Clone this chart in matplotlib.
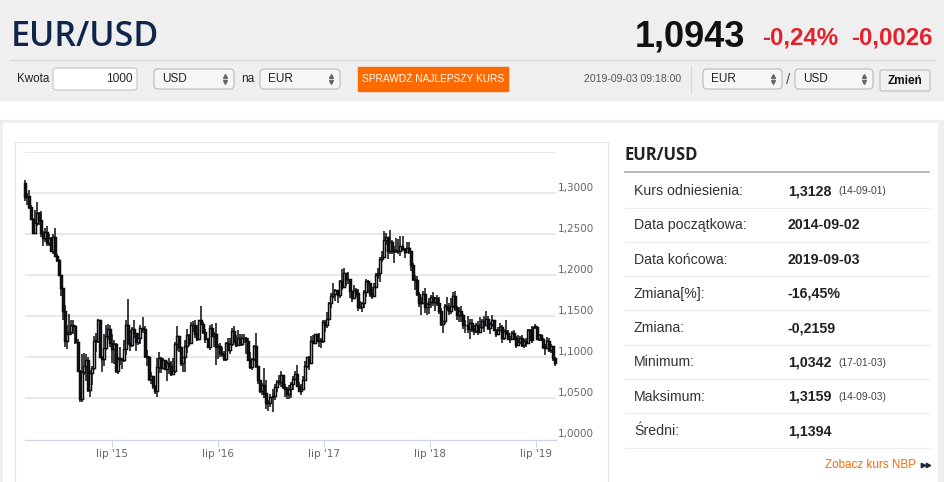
import numpy as np
import pandas as pd
import matplotlib
matplotlib.use('Agg')
import matplotlib.pyplot as plt
import matplotlib.dates as mdates
from matplotlib.patches import Rectangle, FancyBboxPatch
from matplotlib import transforms

# --- dane ---------------------------------------------------------------
pair = 'EUR/USD'
last_rate = '1,0943'
change_pct = '-0,24%'
change_abs = '-0,0026'
timestamp = '2019-09-03 09:18:00'
ref_rate = 1.3128

# tygodniowe swiece EUR/USD (zamkniecie, max, min), od 2014-09-03
closes = [
    1.295, 1.297, 1.283, 1.268, 1.252, 1.263, 1.276, 1.267, 1.252,
    1.245, 1.253, 1.239, 1.245, 1.229, 1.246, 1.223, 1.218, 1.200,
    # 2015
    1.184, 1.157, 1.120, 1.129, 1.131, 1.139, 1.138, 1.119,
    1.084, 1.049, 1.082, 1.089, 1.097, 1.060, 1.081, 1.087, 1.120,
    1.120, 1.145, 1.101, 1.098, 1.111, 1.126, 1.135, 1.117, 1.110,
    1.116, 1.083, 1.098, 1.098, 1.097, 1.110, 1.139, 1.118, 1.115,
    1.134, 1.130, 1.119, 1.123, 1.136, 1.135, 1.102, 1.100,
    1.074, 1.077, 1.065, 1.059, 1.088, 1.099, 1.087, 1.097, 1.086,
    # 2016
    1.093, 1.089, 1.080, 1.083, 1.116, 1.126, 1.113, 1.093, 1.100,
    1.114, 1.127, 1.117, 1.139, 1.140, 1.128, 1.122, 1.145,
    1.141, 1.131, 1.122, 1.112, 1.136, 1.126, 1.128, 1.112, 1.114,
    1.105, 1.104, 1.098, 1.117, 1.109, 1.116, 1.132, 1.119, 1.115,
    1.123, 1.116, 1.123, 1.124, 1.120, 1.097, 1.088, 1.098, 1.114,
    1.089, 1.073, 1.059, 1.066, 1.056, 1.045, 1.045, 1.052,
    # 2017
    1.053, 1.064, 1.070, 1.070, 1.078, 1.064, 1.062, 1.056, 1.062,
    1.067, 1.074, 1.080, 1.065, 1.059, 1.062, 1.073, 1.090,
    1.100, 1.093, 1.120, 1.118, 1.128, 1.120, 1.120, 1.120, 1.143,
    1.140, 1.147, 1.166, 1.175, 1.177, 1.182, 1.176, 1.193, 1.186,
    1.203, 1.195, 1.195, 1.181, 1.172, 1.182, 1.178, 1.161, 1.161,
    1.166, 1.179, 1.193, 1.190, 1.177, 1.175, 1.186, 1.200,
    # 2018
    1.203, 1.220, 1.222, 1.243, 1.246, 1.230, 1.241, 1.230, 1.231,
    1.230, 1.229, 1.235, 1.232, 1.228, 1.233, 1.229, 1.213, 1.196,
    1.194, 1.177, 1.166, 1.166, 1.177, 1.161, 1.165, 1.168,
    1.174, 1.168, 1.172, 1.166, 1.157, 1.141, 1.144, 1.162, 1.160,
    1.156, 1.163, 1.175, 1.160, 1.152, 1.156, 1.151, 1.140, 1.139,
    1.134, 1.142, 1.134, 1.132, 1.139, 1.131, 1.137, 1.144, 1.140,
    # 2019
    1.147, 1.136, 1.141, 1.146, 1.133, 1.129, 1.133, 1.137,
    1.124, 1.132, 1.130, 1.122, 1.122, 1.130, 1.124, 1.115, 1.119,
    1.123, 1.115, 1.120, 1.117, 1.133, 1.121, 1.137, 1.137,
    1.122, 1.127, 1.122, 1.113, 1.111, 1.120, 1.109, 1.114, 1.099,
    1.093,
]
highs = [
    1.316, 1.300, 1.304, 1.285, 1.270, 1.280, 1.289, 1.277, 1.278,
    1.254, 1.258, 1.260, 1.250, 1.246, 1.250, 1.257, 1.226, 1.220,
    # 2015
    1.197, 1.185, 1.164, 1.139, 1.153, 1.146, 1.146, 1.140,
    1.122, 1.085, 1.104, 1.105, 1.104, 1.100, 1.085, 1.090, 1.126,
    1.130, 1.147, 1.146, 1.102, 1.128, 1.139, 1.141, 1.140, 1.128,
    1.121, 1.118, 1.101, 1.113, 1.099, 1.121, 1.146, 1.171, 1.133,
    1.137, 1.146, 1.130, 1.130, 1.139, 1.149, 1.138, 1.109,
    1.102, 1.082, 1.077, 1.066, 1.099, 1.106, 1.101, 1.099, 1.096,
    # 2016
    1.095, 1.099, 1.095, 1.099, 1.119, 1.138, 1.124, 1.113, 1.101,
    1.121, 1.134, 1.129, 1.143, 1.144, 1.146, 1.140, 1.146,
    1.162, 1.143, 1.134, 1.124, 1.139, 1.141, 1.131, 1.142, 1.116,
    1.118, 1.112, 1.108, 1.119, 1.123, 1.123, 1.136, 1.138, 1.127,
    1.133, 1.128, 1.128, 1.128, 1.125, 1.123, 1.106, 1.099, 1.115,
    1.130, 1.090, 1.071, 1.069, 1.087, 1.073, 1.048, 1.055,
    # 2017
    1.061, 1.068, 1.072, 1.078, 1.083, 1.079, 1.068, 1.064, 1.066,
    1.070, 1.077, 1.083, 1.091, 1.070, 1.068, 1.077, 1.095,
    1.100, 1.102, 1.126, 1.127, 1.129, 1.129, 1.130, 1.124, 1.145,
    1.145, 1.155, 1.168, 1.178, 1.191, 1.183, 1.180, 1.194, 1.207,
    1.209, 1.199, 1.204, 1.188, 1.181, 1.188, 1.184, 1.183, 1.169,
    1.167, 1.182, 1.196, 1.194, 1.190, 1.186, 1.191, 1.203,
    # 2018
    1.209, 1.222, 1.230, 1.254, 1.252, 1.247, 1.255, 1.243, 1.236,
    1.245, 1.244, 1.248, 1.248, 1.233, 1.240, 1.241, 1.229, 1.215,
    1.200, 1.199, 1.179, 1.174, 1.181, 1.185, 1.166, 1.172,
    1.176, 1.179, 1.174, 1.176, 1.174, 1.160, 1.144, 1.165, 1.173,
    1.166, 1.172, 1.180, 1.181, 1.162, 1.161, 1.162, 1.153, 1.146,
    1.150, 1.147, 1.147, 1.140, 1.142, 1.144, 1.149, 1.147, 1.150,
    # 2019
    1.157, 1.150, 1.143, 1.151, 1.146, 1.134, 1.137, 1.142,
    1.139, 1.134, 1.145, 1.133, 1.126, 1.132, 1.133, 1.126, 1.127,
    1.126, 1.127, 1.122, 1.123, 1.135, 1.134, 1.138, 1.141,
    1.138, 1.129, 1.129, 1.124, 1.116, 1.125, 1.123, 1.116, 1.111,
    1.100,
]
lows = [
    1.290, 1.286, 1.281, 1.267, 1.250, 1.251, 1.260, 1.261, 1.247,
    1.236, 1.240, 1.236, 1.236, 1.228, 1.226, 1.222, 1.216, 1.199,
    # 2015
    1.175, 1.146, 1.112, 1.110, 1.127, 1.127, 1.129, 1.116,
    1.083, 1.046, 1.046, 1.078, 1.071, 1.058, 1.052, 1.066, 1.085,
    1.107, 1.117, 1.099, 1.082, 1.090, 1.109, 1.121, 1.112, 1.093,
    1.092, 1.081, 1.080, 1.091, 1.086, 1.094, 1.103, 1.115, 1.108,
    1.113, 1.124, 1.108, 1.115, 1.116, 1.130, 1.099, 1.090,
    1.071, 1.067, 1.062, 1.055, 1.052, 1.081, 1.081, 1.089, 1.084,
    # 2016
    1.071, 1.080, 1.077, 1.080, 1.081, 1.108, 1.106, 1.090, 1.082,
    1.082, 1.105, 1.114, 1.116, 1.131, 1.124, 1.120, 1.121,
    1.139, 1.129, 1.118, 1.111, 1.109, 1.125, 1.113, 1.091, 1.098,
    1.100, 1.101, 1.095, 1.095, 1.108, 1.104, 1.114, 1.118, 1.112,
    1.115, 1.114, 1.114, 1.117, 1.104, 1.096, 1.086, 1.085, 1.095,
    1.087, 1.067, 1.057, 1.054, 1.051, 1.037, 1.035, 1.040,
    # 2017
    1.034, 1.048, 1.058, 1.066, 1.064, 1.061, 1.052, 1.049, 1.049,
    1.050, 1.060, 1.073, 1.064, 1.058, 1.054, 1.063, 1.082,
    1.087, 1.084, 1.092, 1.116, 1.116, 1.119, 1.112, 1.111, 1.118,
    1.131, 1.136, 1.146, 1.160, 1.172, 1.169, 1.166, 1.172, 1.182,
    1.189, 1.187, 1.189, 1.172, 1.167, 1.173, 1.173, 1.157, 1.159,
    1.155, 1.160, 1.173, 1.178, 1.173, 1.171, 1.176, 1.186,
    # 2018
    1.196, 1.192, 1.216, 1.222, 1.237, 1.220, 1.226, 1.226, 1.215,
    1.227, 1.226, 1.223, 1.229, 1.221, 1.227, 1.226, 1.205, 1.193,
    1.182, 1.175, 1.161, 1.151, 1.165, 1.154, 1.151, 1.153,
    1.160, 1.162, 1.157, 1.163, 1.153, 1.138, 1.130, 1.141, 1.157,
    1.151, 1.153, 1.160, 1.157, 1.145, 1.143, 1.143, 1.134, 1.130,
    1.130, 1.122, 1.131, 1.127, 1.130, 1.127, 1.134, 1.135, 1.131,
    # 2019
    1.142, 1.133, 1.129, 1.137, 1.132, 1.125, 1.128, 1.134,
    1.118, 1.121, 1.127, 1.121, 1.118, 1.121, 1.121, 1.111, 1.115,
    1.116, 1.113, 1.111, 1.112, 1.116, 1.120, 1.118, 1.134,
    1.121, 1.120, 1.120, 1.110, 1.103, 1.111, 1.107, 1.105, 1.096,
    1.090,
]
start_week = '2014-09-03'

y_ticks = [1.00, 1.05, 1.10, 1.15, 1.20, 1.25, 1.30, 1.35]
y_labels = ['1,0000', '1,0500', '1,1000', '1,1500', '1,2000', '1,2500', '1,3000', '']
x_tick_dates = ['2015-07-01', '2016-07-01', '2017-07-01', '2018-07-01', '2019-07-01']
x_tick_labels = ["lip '15", "lip '16", "lip '17", "lip '18", "lip '19"]

stat_labels = ['Kurs odniesienia:', 'Data początkowa:', 'Data końcowa:', 'Zmiana[%]:',
               'Zmiana:', 'Minimum:', 'Maksimum:', 'Średni:']
stat_values = ['1,3128', '2014-09-02', '2019-09-03', '-16,45%',
               '-0,2159', '1,0342', '1,3159', '1,1394']
stat_dates = ['(14-09-01)', '', '', '', '', '(17-01-03)', '(14-09-03)', '']

assert len(closes) == len(highs) == len(lows)

# --- strona ---------------------------------------------------------------
W, H = 945, 482
fig = plt.figure(figsize=(W / 100, H / 100), dpi=100)
bg = fig.add_axes([0, 0, 1, 1])
bg.set_xlim(0, W)
bg.set_ylim(H, 0)
bg.axis('off')

SANS = ['Liberation Sans', 'DejaVu Sans']
OPEN = ['Open Sans', 'DejaVu Sans']


def box(x, y, w, h, fc, ec, r=3, lw=0.8, z=1):
    bg.add_patch(FancyBboxPatch((x, y), w, h, boxstyle=f'round,pad=0,rounding_size={r}',
                                fc=fc, ec=ec, lw=lw, zorder=z))


def select(x, y, w, label):
    box(x, y, w, 20, '#f6f6f6', '#b9b9b9', r=4)
    bg.text(x + 8, y + 10.5, label, fontsize=8.5, family=SANS, color='#222', va='center')
    bg.plot([x + w - 9], [y + 7], marker='^', ms=2.8, color='#666', zorder=3)
    bg.plot([x + w - 9], [y + 13], marker='v', ms=2.8, color='#666', zorder=3)


# naglowek
bg.add_patch(Rectangle((0, 0), W, 100, color='#efefef', zorder=0))
bg.plot([10, 935], [59.5, 59.5], color='#d6d6d6', lw=0.8)
bg.text(11, 46, pair, fontsize=24.5, weight='semibold', family=OPEN, color='#10254a', va='baseline')
bg.text(745, 46, last_rate, fontsize=26, weight='bold', family=SANS, color='#111', ha='right', va='baseline')
bg.text(838, 44, change_pct, fontsize=17.3, weight='bold', family=SANS, color='#e3212b', ha='right', va='baseline')
bg.text(933, 44, change_abs, fontsize=17.3, weight='bold', family=SANS, color='#e3212b', ha='right', va='baseline')

bg.text(17, 79.5, 'Kwota', fontsize=8.4, family=SANS, color='#222', va='center')
box(53, 68, 84, 22, 'white', '#c6c6c6', r=3)
bg.text(133, 79.5, '1000', fontsize=8.6, family=SANS, color='#222', va='center', ha='right')
select(154, 69, 80, 'USD')
bg.text(241, 79.5, 'na', fontsize=8.6, family=SANS, color='#222', va='center')
select(260, 69, 80, 'EUR')
bg.add_patch(Rectangle((358, 67), 150, 24, color='#ff6a00', zorder=1))
bg.text(433, 79.5, 'SPRAWDŹ NAJLEPSZY KURS', fontsize=7.3, family=SANS, color='white',
        ha='center', va='center', zorder=2)
bg.text(681, 79.5, timestamp, fontsize=7.6, family=SANS, color='#555', ha='right', va='center')
bg.plot([691, 691], [66, 93], color='#d6d6d6', lw=0.8)
select(703, 69, 79, 'EUR')
bg.text(788.5, 80, '/', fontsize=11, family=SANS, color='#555', ha='center', va='center')
select(795, 69, 78, 'USD')
box(880, 70, 50, 21, '#f1f1f1', '#bdbdbd', r=2)
bg.text(905, 80.5, 'Zmień', fontsize=8.5, weight='bold', family=SANS, color='#111', ha='center', va='center')

# ramki
bg.add_patch(Rectangle((0, 120), W, H - 120, color='#eeeeee', zorder=0))
bg.add_patch(Rectangle((3, 123), 934, H - 123, color='white', zorder=0))
bg.add_patch(Rectangle((15, 142), 593, H, fc='white', ec='#e4e4e4', lw=0.8, zorder=0.5))

# panel statystyk
bg.text(625, 155, pair, fontsize=12, weight='bold', family=OPEN, color='#222', va='center')
bg.plot([625, 929], [171.5, 171.5], color='#a3a3a3', lw=1.1)
for i, (lab, val, dt) in enumerate(zip(stat_labels, stat_values, stat_dates)):
    yy = 191 + 34.3 * i
    bg.text(634, yy, lab, fontsize=10.2, family=SANS, color='#333', va='center')
    bg.text(788, yy, val, fontsize=10.2, weight='bold', family=SANS, color='#222', va='center')
    if dt:
        bg.text(838, yy + 0.5, dt, fontsize=7.4, family=SANS, color='#444', va='center')
    bg.plot([625, 929], [yy + 16.5, yy + 16.5], color='#ececec', lw=0.8)
bg.text(916, 464.5, 'Zobacz kurs NBP', fontsize=8.4, family=SANS, color='#ff6a00', ha='right', va='center')
bg.plot([922.5, 927.5], [464.5, 464.5], ls='none', marker='>', ms=3.2, color='#1d2a44')

# --- wykres swiecowy ---------------------------------------------------------
ax = fig.add_axes([25 / W, 1 - 439.5 / H, 531 / W, (439.5 - 152) / H])
ax.set_facecolor('none')

dates = pd.date_range(start_week, periods=len(closes), freq='W-WED')
x = mdates.date2num(dates)
c = np.array(closes)
o = np.r_[ref_rate, c[:-1]]
hi = np.array(highs)
lo = np.array(lows)
up = c >= o

ax.vlines(x, lo, hi, color='#0c0c0c', lw=1.1, zorder=2, clip_on=False)
ax.bar(x, np.maximum(np.abs(c - o), 0.0008), bottom=np.minimum(o, c), width=6.8,
       color=np.where(up, 'white', '#101a2a'), edgecolor='#0c0c0c', linewidth=1.05,
       zorder=3, clip_on=False)

ax.set_xlim(mdates.date2num(pd.Timestamp('2014-09-04')), mdates.date2num(pd.Timestamp('2019-09-08')))
ax.set_ylim(1.0, 1.35)
ax.set_yticks([])
for v in y_ticks[1:]:
    ax.axhline(v, color='#e3e3e3', lw=1.1, zorder=0)
for s in ['top', 'left', 'right']:
    ax.spines[s].set_visible(False)
ax.spines['bottom'].set_color('#ccd6eb')
ax.spines['bottom'].set_linewidth(0.9)

ax.set_xticks(mdates.date2num(pd.to_datetime(x_tick_dates)))
ax.set_xticklabels(x_tick_labels)
ax.tick_params(axis='x', length=5, width=0.8, color='#ccd6eb', labelsize=7.5,
               labelcolor='#666', pad=2)

lab_tr = transforms.offset_copy(ax.get_yaxis_transform(), fig=fig, x=2, y=5, units='dots')
for v, t in zip(y_ticks, y_labels):
    ax.text(1.0, v, t, transform=lab_tr, fontsize=7.5, color='#666', va='center', ha='left')

fig.savefig('out.png', dpi=100)
